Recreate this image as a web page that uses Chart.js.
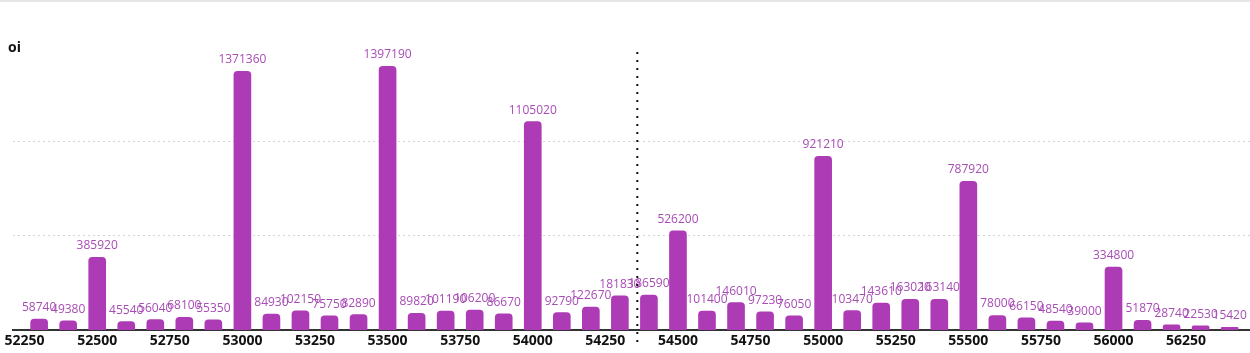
<!DOCTYPE html>
<html>
<head>
<meta charset="utf-8">
<script src="https://cdn.jsdelivr.net/npm/chart.js@4.4.1/dist/chart.umd.min.js"></script>
<style>
  html, body { margin: 0; padding: 0; background: #fff; }
  body::before { content: ''; position: absolute; left: 0; top: 0; width: 1250px; height: 2px; background: #e6e6e6; }
  #wrap { width: 1250px; height: 353px; }
</style>
</head>
<body>
<div id="wrap"><canvas id="oiChart"></canvas></div>
<script>
// strikes and open interest
const strikes = [52300, 52400, 52500, 52600, 52700, 52800, 52900, 53000, 53100, 53200,
  53300, 53400, 53500, 53600, 53700, 53800, 53900, 54000, 54100, 54200,
  54300, 54400, 54500, 54600, 54700, 54800, 54900, 55000, 55100, 55200,
  55300, 55400, 55500, 55600, 55700, 55800, 55900, 56000, 56100, 56200,
  56300, 56400]
const oi = [58740, 49380, 385920, 45540, 56040, 68100, 55350, 1371360, 84930, 102150,
  75750, 82890, 1397190, 89820, 101190, 106200, 86670, 1105020, 92790, 122670,
  181830, 186590, 526200, 101400, 146010, 97230, 76050, 921210, 103470, 143610,
  163020, 163140, 787920, 78000, 66150, 48540, 39000, 334800, 51870, 28740,
  22530, 15420]
const xTicks = [52250, 52500, 52750, 53000, 53250, 53500, 53750, 54000, 54250,
  54500, 54750, 55000, 55250, 55500, 55750, 56000, 56250]
const spot = 54360

const barColor = '#ad3bb5'
const labelColor = '#a84cb5'

const valueLabels = {
  id: 'valueLabels',
  afterDatasetsDraw(chart) {
    const ctx = chart.ctx
    const meta = chart.getDatasetMeta(0)
    ctx.save()
    ctx.font = '12px "Open Sans"'
    ctx.fillStyle = labelColor
    ctx.textAlign = 'center'
    ctx.textBaseline = 'alphabetic'
    meta.data.forEach((bar, i) => {
      ctx.fillText(String(oi[i]), bar.x, bar.y - 8)
    })
    ctx.restore()
  }
}

const extras = {
  id: 'extras',
  afterDraw(chart) {
    const ctx = chart.ctx
    const x = chart.scales.x.getPixelForValue(spot)
    ctx.save()
    ctx.strokeStyle = '#111'
    ctx.lineWidth = 2
    ctx.setLineDash([2, 6])
    ctx.beginPath()
    ctx.moveTo(x, 52)
    ctx.lineTo(x, 346)
    ctx.stroke()
    ctx.setLineDash([])
    ctx.font = 'bold 14px "Open Sans"'
    ctx.fillStyle = '#111'
    ctx.textAlign = 'left'
    ctx.fillText('oi', 8, 52)
    ctx.restore()
  }
}

let ctx = document.getElementById('oiChart').getContext('2d')
let oiChart = new Chart(ctx, {
  type: 'bar',
  data: {
    datasets: [{
      label: 'oi',
      data: strikes.map((s, i) => ({ x: s, y: oi[i] })),
      backgroundColor: barColor,
      barThickness: 17,
      borderRadius: 4
    }]
  },
  options: {
    responsive: true,
    maintainAspectRatio: false,
    animation: false,
    layout: { padding: { left: 13, right: 0, top: 47, bottom: 2 } },
    plugins: {
      legend: { display: false },
      tooltip: { enabled: false }
    },
    scales: {
      x: {
        type: 'linear',
        offset: false,
        min: 52210,
        max: 56470,
        afterBuildTicks: scale => { scale.ticks = xTicks.map(v => ({ value: v })) },
        grid: { display: false, drawTicks: false, offset: false },
        border: { display: true, color: '#333', width: 2 },
        ticks: {
          padding: 2,
          color: '#111',
          font: { family: 'Open Sans', size: 14, weight: 'bold' },
          callback: v => String(v),
          maxRotation: 0,
          autoSkip: false
        }
      },
      y: {
        min: 0,
        max: 1500000,
        ticks: { display: false, stepSize: 500000 },
        grid: {
          drawTicks: false,
          color: c => (c.tick.value === 0 || c.tick.value === 1500000) ? 'rgba(0,0,0,0)' : '#d6d6d6',
          lineWidth: 1
        },
        border: { display: false, dash: [2, 3] }
      }
    }
  },
  plugins: [valueLabels, extras]
})
</script>
</body>
</html>
